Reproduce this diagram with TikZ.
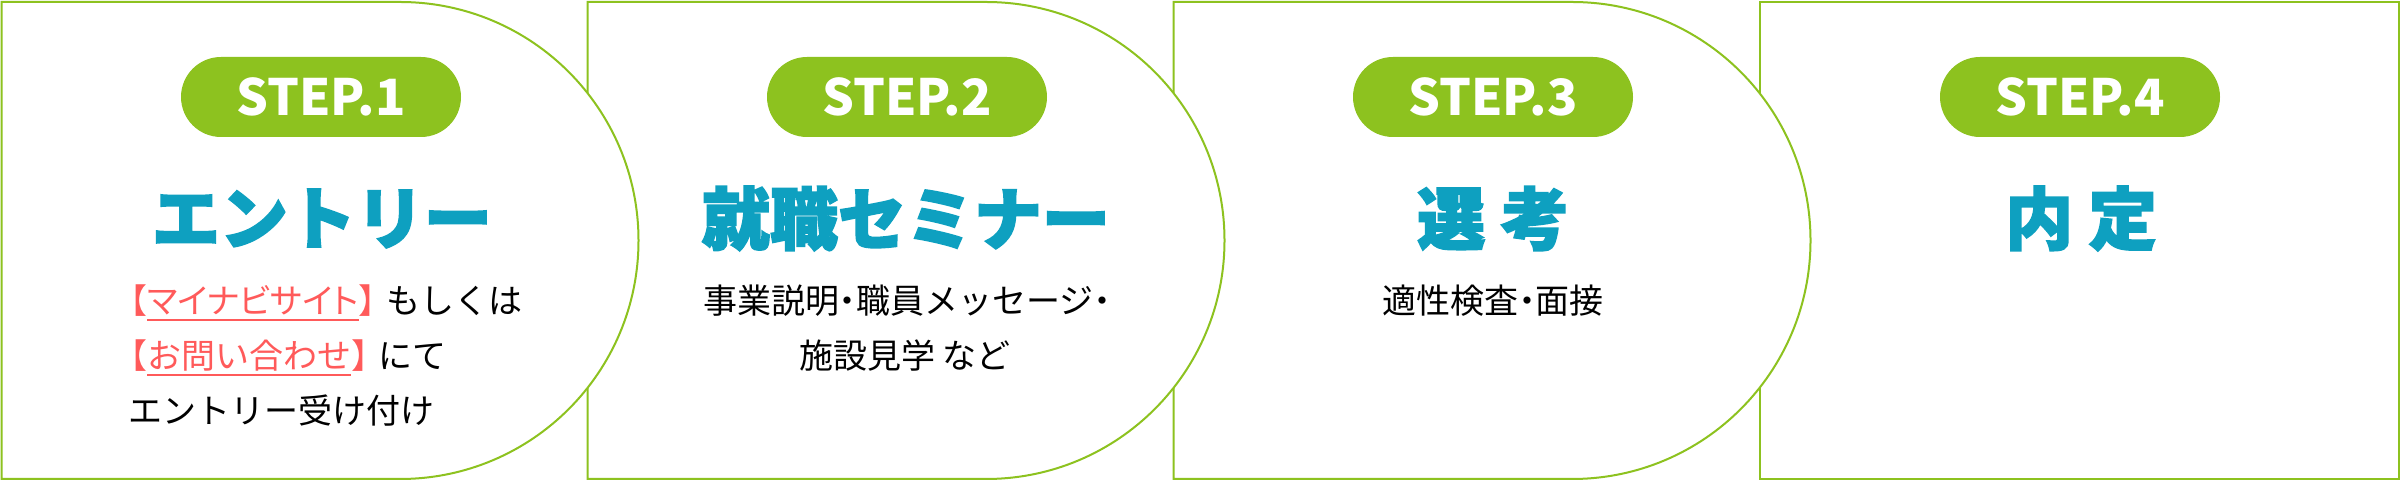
\documentclass[tikz,border=0pt]{standalone}
\usepackage{fontspec}
\setmainfont{Noto Sans CJK JP}

\definecolor{stepgreen}{RGB}{141,194,31}
\definecolor{titleblue}{RGB}{14,160,192}
\definecolor{linkred}{RGB}{255,90,90}

\newsavebox\linkbox
\newcommand{\redline}[1]{\sbox\linkbox{#1}\rlap{\raisebox{-3.5pt}{\rule{\wd\linkbox}{1pt}}}\usebox\linkbox}
\newcommand{\halfw}[1]{{\addfontfeature{RawFeature=+halt}#1}}
\newcommand{\propw}[1]{{\addfontfeature{RawFeature=+palt}#1}}

\begin{document}
\begin{tikzpicture}[
        x=0.5pt, y=0.5pt,
        panel/.style={draw=stepgreen, line width=1pt, fill=white},
        stepbox/.style={fill=stepgreen, rounded corners=20pt, minimum width=140pt, minimum height=40pt, inner sep=0pt, text=white, font=\fontsize{25pt}{30pt}\selectfont\bfseries},
        title/.style={text=titleblue, inner sep=0pt, font=\fontsize{34pt}{40pt}\selectfont\bfseries\addfontfeature{FakeBold=2.5}},
        desc/.style={inner sep=0pt, font=\fontsize{17pt}{27pt}\selectfont}
    ]
    \useasboundingbox (0,0) rectangle (2400,481);

    % right to left, so each curve lies over the next box
    \draw[panel] (1759.5,2) rectangle (2398.5,479);
    \foreach \x in {1173.5, 587.5, 1.5} {
        \draw[panel] (\x,2) -- (\x,479) -- ++(398.5,0)
            arc[start angle=90, end angle=-90, radius=119.25pt] -- cycle;
    }

    \node[stepbox] (step1) at (321,384) {STEP.1};
    \node[stepbox] (step2) at (907,384) {STEP.2};
    \node[stepbox] (step3) at (1493,384) {STEP.3};
    \node[stepbox] (step4) at (2080,384) {STEP.4};

    \node[title] (title1) at (322,262.5) {エントリー};
    \node[title] (title2) at (906,262.5) {就職セミナー};
    \node[title] (title3) at (1493,262.5) {選 考};
    \node[title] (title4) at (2081,262.5) {内 定};

    \node[desc, anchor=base west] (desc1a) at (130,167) {{\color{linkred}\halfw{【}\redline{\propw{マイナビサイト}}\halfw{】}}\hspace{0.3em}もしくは};
    \node[desc, anchor=base west] (desc1b) at (130,112) {{\color{linkred}\halfw{【}\redline{お問い合わせ}\halfw{】}}\hspace{0.3em}にて};
    \node[desc, anchor=base west] (desc1c) at (128,57) {エントリー受け付け};

    \node[desc, anchor=base] (desc2a) at (907,167) {事業説明\halfw{・}職員メッセージ\halfw{・}};
    \node[desc, anchor=base] (desc2b) at (905,112) {施設見学 など};

    \node[desc, anchor=base] (desc3a) at (1493,167) {適性検査\halfw{・}面接};

\end{tikzpicture}
\end{document}
